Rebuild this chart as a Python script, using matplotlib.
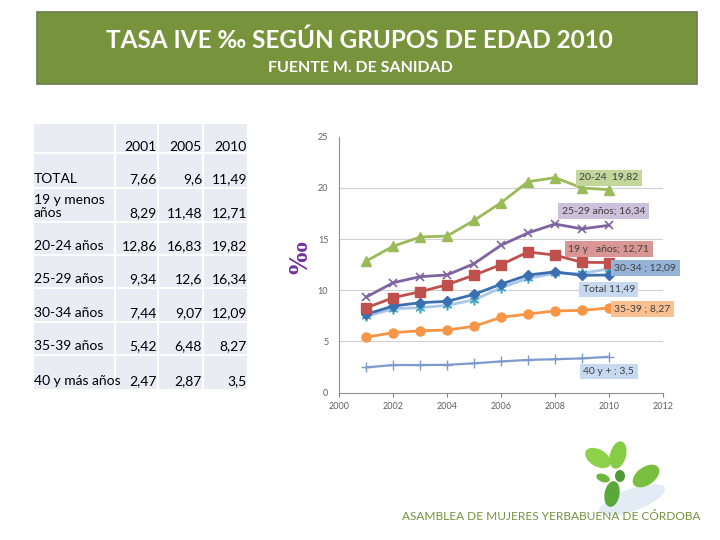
import numpy as np
import matplotlib
matplotlib.use("Agg")
import matplotlib.pyplot as plt
from matplotlib.patches import Rectangle, Ellipse

plt.rcParams['font.family'] = ['Lato', 'DejaVu Sans']

# datos de la tabla
col_years = ['2001', '2005', '2010']
row_names = ['TOTAL', '19 y menos\naños', '20-24 años', '25-29 años',
             '30-34 años', '35-39 años', '40 y más años']
tab_2001 = ['7,66', '8,29', '12,86', '9,34', '7,44', '5,42', '2,47']
tab_2005 = ['9,6', '11,48', '16,83', '12,6', '9,07', '6,48', '2,87']
tab_2010 = ['11,49', '12,71', '19,82', '16,34', '12,09', '8,27', '3,5']

# series del grafico 2001-2010
years = [2001, 2002, 2003, 2004, 2005, 2006, 2007, 2008, 2009, 2010]
total = [7.66, 8.46, 8.79, 8.92, 9.6, 10.6, 11.49, 11.8, 11.46, 11.49]
menos19 = [8.29, 9.28, 9.86, 10.55, 11.48, 12.5, 13.74, 13.44, 12.73, 12.71]
g20_24 = [12.86, 14.3, 15.2, 15.3, 16.83, 18.55, 20.6, 21.0, 20.0, 19.82]
g25_29 = [9.34, 10.74, 11.33, 11.5, 12.6, 14.4, 15.6, 16.47, 16.0, 16.34]
g30_34 = [7.44, 8.2, 8.3, 8.53, 9.07, 10.25, 11.17, 11.65, 11.65, 12.09]
g35_39 = [5.42, 5.86, 6.05, 6.12, 6.48, 7.36, 7.68, 7.98, 8.04, 8.27]
g40 = [2.47, 2.7, 2.7, 2.72, 2.87, 3.05, 3.2, 3.27, 3.35, 3.5]

fig = plt.figure(figsize=(7.2, 5.4), dpi=100)

# fondo en pixeles
bg = fig.add_axes([0, 0, 1, 1])
bg.set_xlim(0, 720)
bg.set_ylim(540, 0)
bg.axis('off')

# banner del titulo
bg.add_patch(Rectangle((37, 12), 660, 72, facecolor='#77933c',
                       edgecolor='#6b7b58', lw=1.2))
bg.text(359, 40, 'TASA IVE ‰ SEGÚN GRUPOS DE EDAD 2010', color='white',
        fontsize=17.5, fontweight='bold', ha='center', va='center')
bg.text(360, 68, 'FUENTE M. DE SANIDAD', color='white', fontsize=11.5,
        fontweight='bold', ha='center', va='center')

# tabla
xs = [33, 115, 158, 203, 248]
ys = [123, 153, 188, 222, 255, 288, 322, 355, 390]
for i in range(len(xs) - 1):
    for j in range(len(ys) - 1):
        bg.add_patch(Rectangle((xs[i] + 1, ys[j] + 1), xs[i+1] - xs[i] - 2,
                               ys[j+1] - ys[j] - 2, facecolor='#e9ecf3',
                               edgecolor='none'))
for k, yr in enumerate(col_years):
    bg.text(xs[k + 2] - 1, 147, yr, fontsize=10, ha='right', va='center',
            color='black')
for j, name in enumerate(row_names):
    yb = ys[j + 2] - 3
    bg.text(xs[0] + 1, yb, name, fontsize=10, ha='left', va='bottom',
            color='black', linespacing=1.1)
    for k, col in enumerate([tab_2001, tab_2005, tab_2010]):
        bg.text(xs[k + 2] - 1, yb, col[j], fontsize=10, ha='right',
                va='bottom', color='black')

# hojas decorativas
bg.add_patch(Ellipse((632, 500), 70, 22, angle=-20, facecolor='#e3ecf6',
                     edgecolor='none'))
leaves = [((598, 458), 28, 17, 30, '#8fd14a'), ((618, 455), 16, 28, 15, '#86cc44'),
          ((646, 476), 30, 18, -35, '#79bf3f'), ((612, 494), 15, 26, 10, '#5aa83a'),
          ((603, 478), 14, 8, 20, '#6cb83c'), ((620, 476), 10, 12, 0, '#4e9a36')]
for (c, w, h, a, col) in leaves:
    bg.add_patch(Ellipse(c, w, h, angle=a, facecolor=col, edgecolor='none'))

bg.text(551, 517, 'ASAMBLEA DE MUJERES YERBABUENA DE CÓRDOBA', color='#76923c',
        fontsize=8.6, ha='center', va='center')

# grafico
ax = fig.add_axes([0.4713, 0.2728, 0.4492, 0.4741])
ax.patch.set_alpha(0)
for v in [5, 10, 15, 20]:
    ax.axhline(v, color='#d0d0d0', lw=0.8, zorder=0)

ax.plot(years, total, color='#3c6fb0', lw=2, marker='D', ms=5, zorder=3)
ax.plot(years, menos19, color='#c0504d', lw=2, marker='s', ms=6.5, zorder=3)
ax.plot(years, g20_24, color='#9bbb59', lw=2, marker='^', ms=7, zorder=3)
ax.plot(years, g25_29, color='#7e64a0', lw=2, marker='x', ms=6, mew=1.2, zorder=3)
ax.plot(years, g30_34, color='#a9c6e8', lw=2, marker=(6, 2, 0), ms=7,
        mec='#4bacc6', mew=1.2, zorder=2)
ax.plot(years, g35_39, color='#f79646', lw=2, marker='o', ms=6.5, zorder=3)
ax.plot(years, g40, color='#7e9acb', lw=1.6, marker='+', ms=7, mew=1, zorder=3)

lab_kw = dict(fontsize=7.5, color='#404040', ha='center', va='center', zorder=5)
ax.text(2010.0, 21.0, '20-24  19,82', bbox=dict(fc='#c3d69b', ec='none', pad=2.5), **lab_kw)
ax.text(2009.8, 17.7, '25-29 años; 16,34', bbox=dict(fc='#ccc0da', ec='none', pad=2.5), **lab_kw)
ax.text(2010.0, 14.0, '19 y   años; 12,71', bbox=dict(fc='#d99694', ec='none', pad=2.5), **lab_kw)
ax.text(2011.35, 12.2, '30-34 ; 12,09', bbox=dict(fc='#95b3d7', ec='none', pad=2.5), clip_on=False, **lab_kw)
ax.text(2010.0, 10.08, 'Total 11,49', bbox=dict(fc='#c6d9f1', ec='none', pad=2.5), **lab_kw)
ax.text(2011.25, 8.2, '35-39 ; 8,27', bbox=dict(fc='#fac090', ec='none', pad=2.5), clip_on=False, **lab_kw)
ax.text(2010.0, 2.07, '40 y + ; 3,5', bbox=dict(fc='#c6d9f1', ec='none', pad=2.5), **lab_kw)

ax.set_xlim(2000, 2012)
ax.set_ylim(0, 25)
ax.set_xticks(np.arange(2000, 2013, 2))
ax.set_yticks(np.arange(0, 26, 5))
ax.tick_params(axis='x', colors='#808080', labelsize=6.5, length=3, labelcolor='#606060')
ax.tick_params(axis='y', length=0, labelsize=6.5, labelcolor='#606060', pad=8)
for s in ['top', 'right']:
    ax.spines[s].set_visible(False)
for s in ['left', 'bottom']:
    ax.spines[s].set_color('#909090')
    ax.spines[s].set_linewidth(0.8)

fig.text(300 / 720, 1 - 258 / 540, '‰', rotation=90, fontsize=17, color='#7030a0',
         fontweight='bold', family='DejaVu Serif', ha='center', va='center')

fig.savefig('out.png', dpi=100)
